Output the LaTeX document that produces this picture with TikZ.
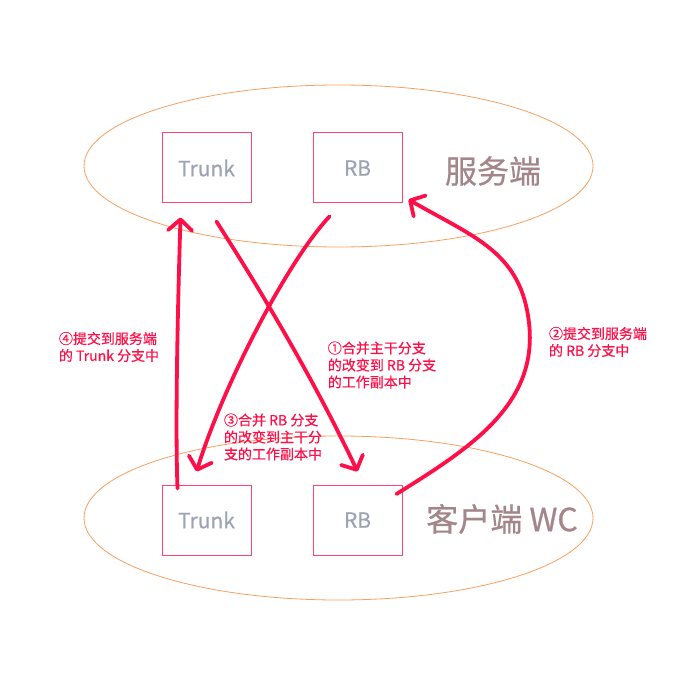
\documentclass[tikz,border=0pt]{standalone}
\usepackage{fontspec}
\setmainfont{Noto Sans CJK SC}
\newfontfamily\semibold[FakeBold=0.6]{Noto Sans CJK SC}
\usepackage{xcolor}
\usetikzlibrary{arrows.meta,positioning,shapes.geometric}

\definecolor{boxred}{HTML}{FF4472}
\definecolor{penred}{HTML}{FF0F48}
\definecolor{zoneorange}{HTML}{F7A060}
\definecolor{boxgray}{HTML}{9CA3B3}
\definecolor{sidebrown}{HTML}{A3858A}

\begin{document}
\begin{tikzpicture}[
  x=1pt, y=-1pt,
  zone/.style={draw=zoneorange, line width=0.8pt, ellipse, inner sep=0pt},
  box/.style={draw=boxred, line width=1pt, minimum width=89pt, minimum height=70pt, inner sep=0pt, text=boxgray, font=\semibold\fontsize{21}{24}\selectfont},
  side/.style={text=sidebrown, font=\semibold\fontsize{32}{36}\selectfont, inner sep=0pt},
  note/.style={text=penred, font=\semibold\fontsize{14}{17}\selectfont, align=left, inner sep=0pt},
  pen/.style={draw=penred, line width=3.8pt, line cap=round, line join=round, -{Straight Barb[length=11pt,width=24pt,round]}}
]
  \useasboundingbox (0,0) rectangle (700,700);

  % server and client areas
  \node[zone, minimum width=509pt, minimum height=162pt] (server) at (338.5,166) {};
  \node[zone, minimum width=509pt, minimum height=164pt] (client) at (338.5,518) {};
  \node[side] (srvlabel) at (493,171) {服务端};
  \node[side] (wclabel) at (502,519) {客户端 WC};

  % branches
  \node[box] (ttrunk) at (206.5,168) {Trunk};
  \node[box, right=61pt of ttrunk] (trb) {RB};
  \node[box, below=281pt of ttrunk] (btrunk) {Trunk};
  \node[box, right=61pt of btrunk] (brb) {RB};

  % pen strokes
  \coordinate (s1) at ([shift={(10,18)}]ttrunk.south);
  \coordinate (e1) at ([shift={(0,-13)}]brb.north);
  \coordinate (s2) at ([shift={(-6,-26)}]brb.east);
  \coordinate (e2) at ([shift={(6,-4)}]trb.south east);
  \coordinate (s3) at ([shift={(-28,13)}]trb.south);
  \coordinate (e3) at ([shift={(-10,-13)}]btrunk.north);
  \coordinate (s4) at ([shift={(-29,4)}]btrunk.north);
  \coordinate (e4) at ([shift={(-26,14)}]ttrunk.south);

  \draw[pen] (s1) .. controls (228,240) and (300,350) .. (e1);
  \draw[pen] (s2) .. controls (475,445) and (545,400) .. (527,310)
             .. controls (515,250) and (470,235) .. (e2);
  \draw[pen] (s3) .. controls (290,258) and (225,380) .. (e3);
  \draw[pen] (s4) .. controls (175,420) and (178,300) .. (e4);

  % notes
  \node[note] (n1) at (382,365) {①合并主干分支\\的改变到 RB 分支\\的工作副本中};
  \node[note] (n2) at (598,342) {②提交到服务端\\的 RB 分支中};
  \node[note] (n3) at (273,437) {③合并 RB 分支\\的改变到主干分\\支的工作副本中};
  \node[note] (n4) at (109,347) {④提交到服务端\\的 Trunk 分支中};
\end{tikzpicture}
\end{document}
